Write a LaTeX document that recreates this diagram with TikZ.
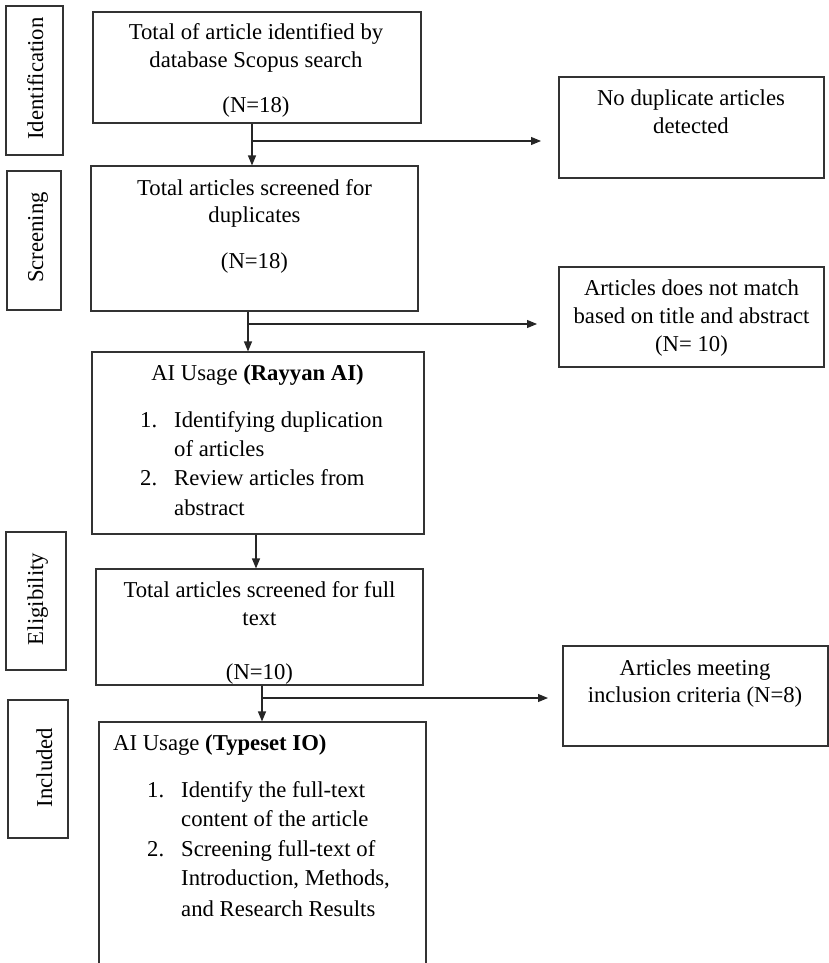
\documentclass[tikz,border=0pt]{standalone}
\usepackage{fontspec}
\setmainfont{Liberation Serif}
\usetikzlibrary{arrows.meta,fit}
\begin{document}
\begin{tikzpicture}[x=1pt,y=-1pt,
  box/.style={draw=black!80, line width=1.1pt, inner sep=0pt},
  txt/.style={anchor=base, inner sep=0pt, font=\fontsize{22.7}{28}\selectfont},
  txtl/.style={txt, anchor=base west},
  side/.style={txt, rotate=90},
  arr/.style={draw=black!85, line width=1.1pt, -{Triangle[length=10pt,width=8pt]}}
]
\useasboundingbox (0,0) rectangle (829,963);
\clip (0,0) rectangle (829,963);

% side labels
\node[box, fit={(6,6) (63,155)}] (sid) {};
\node[side] (sidt) at (43,78.5) {Identification};
\node[box, fit={(7,171) (61,310)}] (sscr) {};
\node[side] (sscrt) at (43,237.5) {Screening};
\node[box, fit={(6,532) (66,670)}] (selig) {};
\node[side] (seligt) at (43,599) {Eligibility};
\node[box, fit={(8,700) (68,838)}] (sinc) {};
\node[side] (sinct) at (52,767.5) {Included};

% main boxes
\node[box, fit={(93,12) (421,123)}] (b1) {};
\node[txt] (b1a) at (256,40) {Total of article identified by};
\node[txt] (b1b) at (256,68) {database Scopus search};
\node[txt] (b1c) at (256,113) {(N=18)};

\node[box, fit={(91,166) (418,311)}] (b2) {};
\node[txt] (b2a) at (254.5,195) {Total articles screened for};
\node[txt] (b2b) at (254.5,222) {duplicates};
\node[txt] (b2c) at (254.5,268) {(N=18)};

\node[box, fit={(92,352) (424,534)}] (b3) {};
\node[txt] (b3a) at (257.5,380) {AI Usage \textbf{(Rayyan AI)}};
\node[txtl] (b3n1) at (140,427) {1.};
\node[txtl] (b3i1) at (174,427) {Identifying duplication};
\node[txtl] (b3i1b) at (174,456) {of articles};
\node[txtl] (b3n2) at (140,485.5) {2.};
\node[txtl] (b3i2) at (174,485.5) {Review articles from};
\node[txtl] (b3i2b) at (174,515) {abstract};

\node[box, fit={(96,569) (423,685)}] (b4) {};
\node[txt] (b4a) at (259.5,597) {Total articles screened for full};
\node[txt] (b4b) at (259.5,625) {text};
\node[txt] (b4c) at (259.5,679) {(N=10)};

\node[box, fit={(99,722) (426,1000)}] (b5) {};
\node[txtl] (b5a) at (113,750) {AI Usage \textbf{(Typeset IO)}};
\node[txtl] (b5n1) at (147,797) {1.};
\node[txtl] (b5i1) at (181,797) {Identify the full-text};
\node[txtl] (b5i1b) at (181,826.5) {content of the article};
\node[txtl] (b5n2) at (147,856) {2.};
\node[txtl] (b5i2) at (181,856) {Screening full-text of};
\node[txtl] (b5i2b) at (181,885.5) {Introduction, Methods,};
\node[txtl] (b5i2c) at (181,916.5) {and Research Results};

% right boxes
\node[box, fit={(559,77) (824,178)}] (nodup) {};
\node[txt] (nodupa) at (691,106) {No duplicate articles};
\node[txt] (nodupb) at (691,133) {detected};

\node[box, fit={(559,267) (824,367)}] (nomatch) {};
\node[txt] (nomatcha) at (691.5,295) {Articles does not match};
\node[txt] (nomatchb) at (691.5,323) {based on title and abstract};
\node[txt] (nomatchc) at (691.5,351) {(N= 10)};

\node[box, fit={(563,646) (828,746)}] (meet) {};
\node[txt] (meeta) at (695,675) {Articles meeting};
\node[txt] (meetb) at (695,702) {inclusion criteria (N=8)};

% connectors
\coordinate (v1) at (252,141);
\coordinate (e1) at (541,141);
\draw[arr] (b1.south -| v1) -- (b2.north -| v1);
\draw[arr] (v1) -- (e1);

\coordinate (v2) at (248,324);
\coordinate (e2) at (537,324);
\draw[arr] (b2.south -| v2) -- (b3.north -| v2);
\draw[arr] (v2) -- (e2);

\coordinate (v3) at (256,550);
\draw[arr] (b3.south -| v3) -- (b4.north -| v3);

\coordinate (v4) at (262,698);
\coordinate (e4) at (548,698);
\draw[arr] (b4.south -| v4) -- (b5.north -| v4);
\draw[arr] (v4) -- (e4);
\end{tikzpicture}
\end{document}
